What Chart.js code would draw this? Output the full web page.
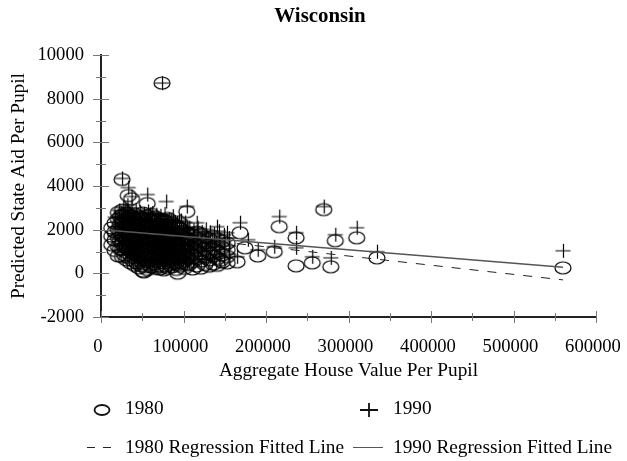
<!DOCTYPE html>
<html lang="en">
<head>
  <meta charset="UTF-8">
  <title>Wisconsin</title>
  <script src="https://cdn.jsdelivr.net/npm/chart.js"></script>
  <style>
    html, body { margin: 0; padding: 0; background: #fff; }
    canvas { display: block; }
  </style>
</head>
<body>
  <canvas id="chart" width="627" height="461"></canvas>

  <script>
    // values: [house value, state aid]
    const outliers1980 = [
      [74000,8717],[25500,4300],[33000,3565],[37000,3420],[56000,3200],[104000,2830],
      [168500,1860],[216000,2140],[236500,1630],[236500,345],[256000,480],[270000,2920],
      [278500,300],[284000,1495],[310000,1630],[334500,710],[560000,253],[190000,800],
      [210000,990],[174500,1170],[165000,530],[93000,10],[52000,70],[145000,600]
    ];
    const cloudA1980 = [
      [13000,1310],[13000,1700],[13000,2080],[17000,1050],[17000,1520],[17000,1900],[17000,2310],
      [21000,800],[21000,1240],[21000,1640],[21000,2020],[21000,2480],[21000,2790],
      [26000,760],[26000,1090],[26000,1380],[26000,1730],[26000,2110],[26000,2400],[26000,2680],[26000,2900],
      [31000,620],[31000,960],[31000,1270],[31000,1560],[31000,1850],[31000,2190],[31000,2530],[31000,2770],
      [36000,480],[36000,820],[36000,1150],[36000,1440],[36000,1690],[36000,1990],[36000,2290],[36000,2620],
      [41000,370],[41000,700],[41000,1010],[41000,1320],[41000,1600],[41000,1880],[41000,2170],[41000,2460],[41000,2710],
      [46000,250],[46000,590],[46000,900],[46000,1210],[46000,1490],[46000,1770],[46000,2050],[46000,2340],[46000,2590],
      [51000,100],[51000,440],[51000,780],[51000,1080],[51000,1370],[51000,1660],[51000,1950],[51000,2240],[51000,2510],[51000,2760],
      [56000,180],[56000,520],[56000,840],[56000,1150],[56000,1430],[56000,1720],[56000,2010],[56000,2300],[56000,2640]
    ];
    const cloudB1980 = [
      [61000,290],[61000,610],[61000,930],[61000,1240],[61000,1530],[61000,1810],[61000,2100],[61000,2420],[61000,2700],
      [66000,230],[66000,560],[66000,870],[66000,1170],[66000,1460],[66000,1750],[66000,2040],[66000,2350],[66000,2580],
      [71000,200],[71000,500],[71000,820],[71000,1130],[71000,1400],[71000,1690],[71000,1980],[71000,2270],[71000,2500],
      [76000,160],[76000,470],[76000,790],[76000,1090],[76000,1370],[76000,1650],[76000,1930],[76000,2210],[76000,2440],
      [81000,240],[81000,530],[81000,850],[81000,1150],[81000,1430],[81000,1700],[81000,1960],[81000,2230],[81000,2520],
      [86000,300],[86000,620],[86000,930],[86000,1210],[86000,1480],[86000,1750],[86000,2000],[86000,2300],
      [91000,180],[91000,490],[91000,800],[91000,1090],[91000,1360],[91000,1620],[91000,1890],[91000,2190],
      [96000,330],[96000,640],[96000,950],[96000,1230],[96000,1500],[96000,1770],[96000,2050],[96000,2280],
      [101000,230],[101000,560],[101000,860],[101000,1140],[101000,1410],[101000,1680],[101000,1950],
      [106000,390],[106000,690],[106000,1000],[106000,1280],[106000,1560],[106000,1830]
    ];
    const cloudC1980 = [
      [111000,200],[111000,540],[111000,870],[111000,1180],[111000,1460],[111000,1750],
      [116000,340],[116000,680],[116000,1030],[116000,1330],[116000,1620],[116000,1890],
      [121000,240],[121000,560],[121000,900],[121000,1230],[121000,1510],[121000,1790],
      [126000,410],[126000,760],[126000,1100],[126000,1400],[126000,1680],
      [131000,330],[131000,620],[131000,970],[131000,1300],[131000,1590],
      [136000,420],[136000,790],[136000,1120],[136000,1460],[136000,1700],
      [141000,370],[141000,680],[141000,1010],[141000,1330],[141000,1580],
      [147000,520],[147000,850],[147000,1180],[147000,1470],
      [153000,480],[153000,770],[153000,1090],[153000,1390]
    ];
    // the dark core, where the marks overlap until nothing shows through
    const coreA1980 = [
      [23500,1110],[23500,1490],[23500,1870],[23500,2260],[23500,2600],
      [28500,850],[28500,1210],[28500,1640],[28500,1980],[28500,2320],[28500,2630],
      [33500,730],[33500,1090],[33500,1420],[33500,1770],[33500,2110],[33500,2440],
      [38500,590],[38500,930],[38500,1280],[38500,1530],[38500,1830],[38500,2140],[38500,2510],
      [43500,480],[43500,820],[43500,1120],[43500,1410],[43500,1710],[43500,2010],[43500,2280],[43500,2560],
      [48500,350],[48500,690],[48500,1010],[48500,1300],[48500,1600],[48500,1890],[48500,2180],[48500,2450],
      [53500,310],[53500,650],[53500,960],[53500,1270],[53500,1560],[53500,1840],[53500,2130],[53500,2420],
      [58500,400],[58500,730],[58500,1030],[58500,1340],[58500,1620],[58500,1900],[58500,2210],[58500,2530]
    ];
    const coreB1980 = [
      [63500,420],[63500,740],[63500,1060],[63500,1350],[63500,1640],[63500,1930],[63500,2230],[63500,2500],
      [68500,350],[68500,680],[68500,1000],[68500,1300],[68500,1580],[68500,1870],[68500,2180],[68500,2460],
      [73500,310],[73500,640],[73500,950],[73500,1260],[73500,1540],[73500,1830],[73500,2120],[73500,2380],
      [78500,340],[78500,660],[78500,970],[78500,1270],[78500,1540],[78500,1820],[78500,2090],[78500,2360],
      [83500,400],[83500,720],[83500,1020],[83500,1300],[83500,1590],[83500,1860],[83500,2130],
      [88500,460],[88500,770],[88500,1060],[88500,1340],[88500,1610],[88500,1880],[88500,2160],
      [93500,400],[93500,700],[93500,1010],[93500,1290],[93500,1570],[93500,1840],[93500,2100],
      [98500,460],[98500,790],[98500,1090],[98500,1360],[98500,1640],[98500,1910],
      [103500,420],[103500,730],[103500,1030],[103500,1310],[103500,1590],[103500,1840]
    ];

    const outliers1990 = [
      [74000,8717],[25500,4350],[33000,3930],[37000,3520],[56000,3610],[79000,3290],[104000,3060],
      [168500,2320],[216000,2600],[236500,1860],[236500,1170],[256000,760],[270000,3060],
      [278500,710],[284000,1770],[310000,2090],[334500,990],[560000,1035],[190000,1080],
      [210000,1220],[178000,1540],[165000,760],[140600,2140],[116000,2320],[152700,1860]
    ];
    const cloudA1990 = [
      [17000,1720],[17000,2130],[17000,2570],[22000,1310],[22000,1700],[22000,2140],[22000,2530],[22000,2880],
      [27000,1120],[27000,1530],[27000,1900],[27000,2290],[27000,2660],[27000,3010],
      [32000,990],[32000,1370],[32000,1740],[32000,2120],[32000,2480],[32000,2830],[32000,3120],
      [37000,860],[37000,1230],[37000,1610],[37000,1980],[37000,2340],[37000,2720],[37000,3000],
      [42000,770],[42000,1120],[42000,1490],[42000,1850],[42000,2210],[42000,2570],[42000,2890],
      [47000,640],[47000,1010],[47000,1370],[47000,1730],[47000,2090],[47000,2450],[47000,2800],
      [52000,570],[52000,930],[52000,1290],[52000,1650],[52000,2010],[52000,2380],[52000,2730],
      [57000,690],[57000,1050],[57000,1410],[57000,1770],[57000,2130],[57000,2490],[57000,2840],
      [62000,600],[62000,960],[62000,1320],[62000,1680],[62000,2040],[62000,2410],[62000,2760]
    ];
    const cloudB1990 = [
      [67000,520],[67000,880],[67000,1240],[67000,1600],[67000,1960],[67000,2320],[67000,2690],
      [72000,640],[72000,1000],[72000,1360],[72000,1720],[72000,2080],[72000,2430],[72000,2640],
      [77000,560],[77000,920],[77000,1280],[77000,1640],[77000,2000],[77000,2360],[77000,2720],
      [82000,680],[82000,1040],[82000,1400],[82000,1760],[82000,2120],[82000,2470],
      [87000,600],[87000,960],[87000,1320],[87000,1680],[87000,2040],[87000,2400],[87000,2620],
      [92000,510],[92000,880],[92000,1240],[92000,1600],[92000,1960],[92000,2310],
      [97000,640],[97000,1000],[97000,1360],[97000,1720],[97000,2080],[97000,2420],
      [102000,570],[102000,930],[102000,1290],[102000,1650],[102000,2010],[102000,2330],
      [107000,700],[107000,1060],[107000,1420],[107000,1780],[107000,2100]
    ];
    const cloudC1990 = [
      [112000,520],[112000,900],[112000,1280],[112000,1640],[112000,1990],
      [117000,660],[117000,1050],[117000,1430],[117000,1810],[117000,2090],
      [122000,800],[122000,1180],[122000,1560],[122000,1900],
      [127000,640],[127000,1020],[127000,1390],[127000,1740],[127000,2020],
      [132000,770],[132000,1150],[132000,1520],[132000,1880],
      [137000,690],[137000,1060],[137000,1440],[137000,1800],
      [143000,830],[143000,1210],[143000,1580],[143000,1930],
      [149000,720],[149000,1100],[149000,1470],[149000,1760],
      [155000,880],[155000,1260],[155000,1620]
    ];
    const coreA1990 = [
      [24500,1240],[24500,1610],[24500,1990],[24500,2410],[24500,2760],
      [29500,1060],[29500,1450],[29500,1820],[29500,2200],[29500,2570],[29500,2920],
      [34500,920],[34500,1300],[34500,1680],[34500,2050],[34500,2410],[34500,2770],
      [39500,810],[39500,1180],[39500,1550],[39500,1920],[39500,2280],[39500,2640],
      [44500,700],[44500,1070],[44500,1430],[44500,1790],[44500,2150],[44500,2510],
      [49500,610],[49500,970],[49500,1330],[49500,1690],[49500,2050],[49500,2410],
      [54500,630],[54500,990],[54500,1350],[54500,1710],[54500,2070],[54500,2440],
      [59500,650],[59500,1010],[59500,1370],[59500,1730],[59500,2090],[59500,2450],[59500,2700]
    ];
    const coreB1990 = [
      [64500,560],[64500,920],[64500,1280],[64500,1640],[64500,2000],[64500,2360],
      [69500,580],[69500,940],[69500,1300],[69500,1660],[69500,2020],[69500,2380],
      [74500,600],[74500,960],[74500,1320],[74500,1680],[74500,2040],[74500,2400],
      [79500,620],[79500,980],[79500,1340],[79500,1700],[79500,2060],[79500,2420],
      [84500,640],[84500,1000],[84500,1360],[84500,1720],[84500,2080],[84500,2430],
      [89500,550],[89500,920],[89500,1280],[89500,1640],[89500,2000],[89500,2350],
      [94500,570],[94500,940],[94500,1300],[94500,1660],[94500,2020],[94500,2370],
      [99500,600],[99500,970],[99500,1330],[99500,1690],[99500,2050],
      [104500,640],[104500,1000],[104500,1360],[104500,1720],[104500,2060]
    ];

    const fit1980 = [[13000,2000],[560000,-300]];
    const fit1990 = [[13000,1960],[560000,280]];

    const seriesNames = ['1980', '1990', '1980 Regression Fitted Line', '1990 Regression Fitted Line'];
    const xStep = 50000, yStep = 1000;

    const toPoints = rows => rows.map(r => ({ x: r[0], y: r[1] }));
    const serif = '"Liberation Serif", "Times New Roman", serif';

    // markers in the picture are wider than tall, so neither built-in style fits
    function ovalMarker() {
      const c = document.createElement('canvas');
      c.width = 20; c.height = 16;
      const g = c.getContext('2d');
      g.strokeStyle = '#000';
      g.lineWidth = 1.2;
      g.beginPath();
      g.ellipse(10, 8, 8, 6, 0, 0, Math.PI * 2);
      g.stroke();
      return c;
    }
    function plusMarker() {
      const c = document.createElement('canvas');
      c.width = 20; c.height = 16;
      const g = c.getContext('2d');
      g.strokeStyle = '#000';
      g.lineWidth = 1.2;
      g.beginPath();
      g.moveTo(2.5, 8); g.lineTo(17.5, 8);
      g.moveTo(10.5, 1); g.lineTo(10.5, 15);
      g.stroke();
      return c;
    }
    const oval = ovalMarker();
    const plus = plusMarker();

    // centre the title on the whole page, not on the plot with its right margin
    const pageTitle = {
      id: 'pageTitle',
      afterLayout(chart) {
        chart.titleBlock.left = 0;
        chart.titleBlock.right = 640;
      }
    };

    // axes have ticks crossing the line, minor ones shorter
    const crossTicks = {
      id: 'crossTicks',
      afterDatasetsDraw(chart) {
        const { ctx, scales: { x, y } } = chart;
        ctx.save();
        ctx.strokeStyle = '#777';
        ctx.lineWidth = 1;
        y.ticks.forEach(t => {
          const py = Math.round(y.getPixelForValue(t.value)) + 0.5;
          const major = t.value % (yStep * 2) === 0;
          ctx.beginPath();
          ctx.moveTo(x.left - (major ? 8 : 5), py);
          ctx.lineTo(x.left + (major ? 8 : 5), py);
          ctx.stroke();
        });
        x.ticks.forEach(t => {
          const px = Math.round(x.getPixelForValue(t.value)) + 0.5;
          const major = t.value % (xStep * 2) === 0;
          ctx.beginPath();
          ctx.moveTo(px, y.bottom - (major ? 6 : 4));
          ctx.lineTo(px, y.bottom + (major ? 6 : 4));
          ctx.stroke();
        });
        ctx.restore();
      }
    };

    // two column legend under the x title
    const sideLegend = {
      id: 'sideLegend',
      afterDraw(chart) {
        const ctx = chart.ctx;
        ctx.save();
        ctx.font = '19.3px ' + serif;
        ctx.fillStyle = '#000';
        ctx.textBaseline = 'middle';
        ctx.fillText(seriesNames[0], 125, 409);
        ctx.fillText(seriesNames[1], 393, 409);
        ctx.fillText(seriesNames[2], 125, 448);
        ctx.fillText(seriesNames[3], 393, 448);

        ctx.strokeStyle = '#111';
        ctx.lineWidth = 1.8;
        ctx.beginPath();
        ctx.ellipse(102, 410, 7.5, 5, 0, 0, Math.PI * 2);
        ctx.stroke();

        ctx.beginPath();
        ctx.moveTo(360, 410); ctx.lineTo(378, 410);
        ctx.moveTo(369, 403); ctx.lineTo(369, 417);
        ctx.stroke();

        ctx.lineWidth = 1;
        ctx.strokeStyle = '#222';
        ctx.setLineDash([8, 8]);
        ctx.beginPath();
        ctx.moveTo(87, 447.5); ctx.lineTo(112, 447.5);
        ctx.stroke();
        ctx.setLineDash([]);
        ctx.strokeStyle = '#555';
        ctx.beginPath();
        ctx.moveTo(353, 447.5); ctx.lineTo(383, 447.5);
        ctx.stroke();
        ctx.restore();
      }
    };

    new Chart(document.getElementById('chart').getContext('2d'), {
      type: 'scatter',
      data: {
        datasets: [
          {
            label: seriesNames[3],
            data: toPoints(fit1990),
            showLine: true, pointRadius: 0,
            borderColor: '#555', borderWidth: 1.6
          },
          {
            label: seriesNames[2],
            data: toPoints(fit1980),
            showLine: true, pointRadius: 0,
            borderColor: '#222', borderWidth: 1, borderDash: [9, 9]
          },
          {
            label: seriesNames[1],
            data: toPoints([...outliers1990, ...cloudA1990, ...cloudB1990, ...cloudC1990, ...coreA1990, ...coreB1990]),
            pointStyle: plus
          },
          {
            label: seriesNames[0],
            data: toPoints([...outliers1980, ...cloudA1980, ...cloudB1980, ...cloudC1980, ...coreA1980, ...coreB1980]),
            pointStyle: oval
          }
        ]
      },
      options: {
        responsive: false,
        animation: false,
        layout: { padding: { top: 0, left: 0, right: 31, bottom: 78 } },
        plugins: {
          legend: { display: false },
          tooltip: { enabled: false },
          title: {
            display: true,
            text: 'Wisconsin',
            color: '#000',
            font: { family: serif, size: 20.9, weight: 'bold' },
            padding: { top: 4, bottom: 26 }
          }
        },
        scales: {
          x: {
            type: 'linear', min: 0, max: 600000,
            // tick padding also feeds the side margin, drop that so the plot reaches its right edge
            afterFit(s) { s.height = 66; s.paddingRight = 0; s.paddingLeft = 0; },
            border: { color: '#222', width: 2 },
            grid: { display: false, drawTicks: false },
            ticks: {
              stepSize: xStep, autoSkip: false, maxRotation: 0, padding: 19, labelOffset: -3,
              color: '#000', font: { family: serif, size: 18.6 },
              callback: v => (v % (xStep * 2) === 0 ? String(v) : '')
            },
            title: {
              display: true, text: 'Aggregate House Value Per Pupil',
              color: '#000', font: { family: serif, size: 19.3 }, padding: 0
            }
          },
          y: {
            min: -2000, max: 10000,
            afterFit(s) { s.width = 101; },
            border: { color: '#222', width: 2 },
            grid: { display: false, drawTicks: false },
            ticks: {
              stepSize: yStep, autoSkip: false, padding: 17,
              color: '#000', font: { family: serif, size: 18.6 },
              callback: v => (v % (yStep * 2) === 0 ? String(v) : '')
            },
            title: {
              display: true, text: 'Predicted State Aid Per Pupil',
              color: '#000', font: { family: serif, size: 19.3 }, padding: { top: 7, bottom: 0 }
            }
          }
        }
      },
      plugins: [pageTitle, crossTicks, sideLegend]
    });
  </script>
</body>
</html>
